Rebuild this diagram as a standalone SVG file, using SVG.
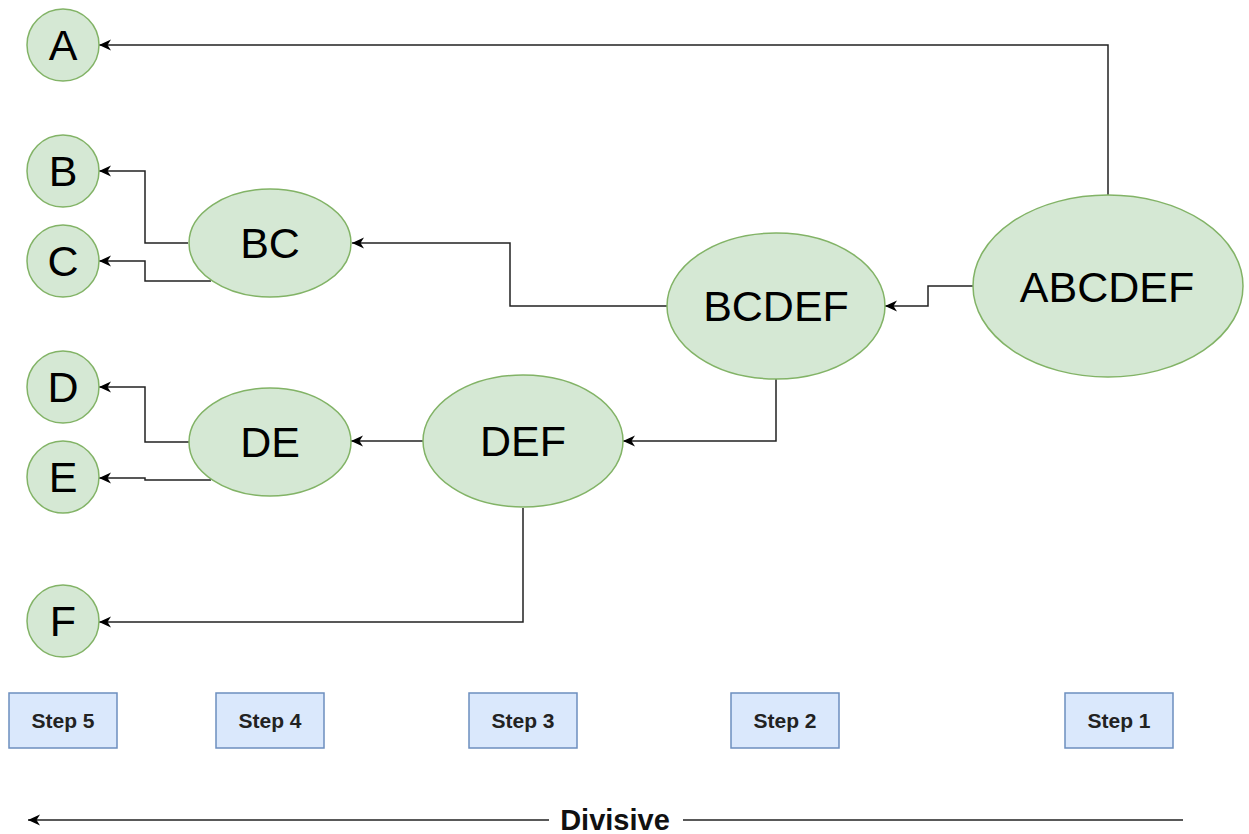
<svg xmlns="http://www.w3.org/2000/svg" width="1249" height="834" viewBox="0 0 1249 834">
<style>
.node ellipse{fill:#d5e8d4;stroke:#82b366;stroke-width:1.5}
.node text{font-family:"Liberation Sans",Arial,sans-serif;font-size:43px;fill:#000;text-anchor:middle}
.step rect{fill:#dae8fc;stroke:#6c8ebf;stroke-width:1.5}
.step text{font-family:"Liberation Sans",Arial,sans-serif;font-size:21px;font-weight:bold;fill:#222;text-anchor:middle}
.conn path{fill:none;stroke:#222;stroke-width:1.5;marker-end:url(#arr)}
.axis{fill:none;stroke:#222;stroke-width:1.5}
.lbl{font-family:"Liberation Sans",Arial,sans-serif;font-size:29px;font-weight:bold;fill:#111;text-anchor:middle}
</style>
<defs>
<marker id="arr" markerUnits="userSpaceOnUse" markerWidth="14" markerHeight="12" refX="12" refY="5.5" orient="auto">
<path d="M0,0 L12,5.5 L0,11 L3.5,5.5 Z" fill="#000"/>
</marker>
</defs>
<rect width="1249" height="834" fill="#fff"/>
<g id="connectors" class="conn">
<path d="M1108,195 V45 H99"/>
<path d="M973,286 H928 V306 H885"/>
<path d="M667,306 H510 V243 H352"/>
<path d="M776,379 V441 H623"/>
<path d="M188,243 H145 V171 H99"/>
<path d="M211,281 H145 V261 H99"/>
<path d="M423,441 H351"/>
<path d="M190,442 H145 V387 H99"/>
<path d="M211,480 H145 V478 H99"/>
<path d="M523,508 V622 H99"/>
</g>
<g id="node-A" class="node"><ellipse cx="63" cy="45" rx="36" ry="36"/><text x="63" y="60">A</text></g>
<g id="node-B" class="node"><ellipse cx="63" cy="171" rx="36" ry="36"/><text x="63" y="186">B</text></g>
<g id="node-C" class="node"><ellipse cx="63" cy="261" rx="36" ry="36"/><text x="63" y="276">C</text></g>
<g id="node-D" class="node"><ellipse cx="63" cy="387" rx="36" ry="36"/><text x="63" y="402">D</text></g>
<g id="node-E" class="node"><ellipse cx="63" cy="477" rx="36" ry="36"/><text x="63" y="492">E</text></g>
<g id="node-F" class="node"><ellipse cx="63" cy="621" rx="36" ry="36"/><text x="63" y="636">F</text></g>
<g id="node-BC" class="node"><ellipse cx="270" cy="243" rx="81" ry="54"/><text x="270" y="258">BC</text></g>
<g id="node-DE" class="node"><ellipse cx="270" cy="442" rx="81" ry="54"/><text x="270" y="457">DE</text></g>
<g id="node-DEF" class="node"><ellipse cx="523" cy="441" rx="100" ry="66"/><text x="523" y="456">DEF</text></g>
<g id="node-BCDEF" class="node"><ellipse cx="776" cy="306" rx="109" ry="73"/><text x="776" y="321">BCDEF</text></g>
<g id="node-ABCDEF" class="node"><ellipse cx="1108" cy="286" rx="135" ry="91"/><text x="1107" y="302">ABCDEF</text></g>
<g id="step5" class="step"><rect x="9" y="693" width="108" height="55"/><text x="63" y="728">Step 5</text></g>
<g id="step4" class="step"><rect x="216" y="693" width="108" height="55"/><text x="270" y="728">Step 4</text></g>
<g id="step3" class="step"><rect x="469" y="693" width="108" height="55"/><text x="523" y="728">Step 3</text></g>
<g id="step2" class="step"><rect x="731" y="693" width="108" height="55"/><text x="785" y="728">Step 2</text></g>
<g id="step1" class="step"><rect x="1065" y="693" width="108" height="55"/><text x="1119" y="728">Step 1</text></g>
<g id="divisive">
<path class="axis" d="M1183,820 H683"/>
<path class="axis" d="M549,820 H28" marker-end="url(#arr)"/>
<text class="lbl" x="615" y="830">Divisive</text>
</g>
</svg>
